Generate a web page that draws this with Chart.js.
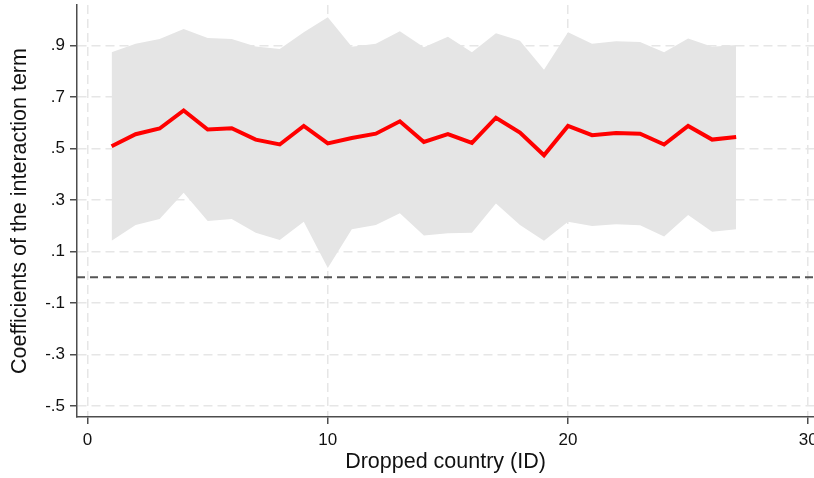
<!DOCTYPE html>
<html>
<head>
<meta charset="utf-8">
<script src="https://cdn.jsdelivr.net/npm/chart.js@4"></script>
<style>
  html, body { margin: 0; padding: 0; background: #fff; overflow: hidden; }
  #wrap { position: absolute; left: 0; top: 0; width: 814px; height: 478px; }
</style>
</head>
<body>
<div id="wrap"><canvas id="grafico" width="814" height="478"></canvas></div>
<script>
// dropped country id
const countryId = [1, 2, 3, 4, 5, 6, 7, 8, 9, 10, 11, 12, 13, 14, 15, 16, 17, 18, 19, 20, 21, 22, 23, 24, 25, 26, 27];
// point estimate of the interaction term
const coef = [0.509, 0.556, 0.578, 0.648, 0.574, 0.579, 0.535, 0.516, 0.588, 0.520,
              0.541, 0.558, 0.606, 0.526, 0.556, 0.522, 0.620, 0.562, 0.474, 0.588,
              0.552, 0.561, 0.558, 0.516, 0.588, 0.535, 0.545];
// confidence interval
const ciUpper = [0.874, 0.907, 0.926, 0.965, 0.930, 0.926, 0.897, 0.887, 0.952, 1.010,
                 0.896, 0.907, 0.956, 0.894, 0.935, 0.874, 0.948, 0.919, 0.806, 0.952,
                 0.907, 0.917, 0.914, 0.874, 0.928, 0.896, 0.903];
const ciLower = [0.142, 0.203, 0.226, 0.328, 0.219, 0.226, 0.173, 0.145, 0.216, 0.036,
                 0.187, 0.203, 0.249, 0.162, 0.171, 0.173, 0.287, 0.203, 0.142, 0.216,
                 0.199, 0.206, 0.202, 0.158, 0.242, 0.177, 0.187];
const refLine = 0;

const xTicks = [0, 10, 20, 30];
const yTicks = [-0.5, -0.3, -0.1, 0.1, 0.3, 0.5, 0.7, 0.9];
const X_MIN = -0.44, X_MAX = 30.24;
const Y_MIN = -0.543, Y_MAX = 1.058;

const pts = arr => countryId.map((id, i) => ({x: id, y: arr[i]}));

const axisColor = '#4d4d4d';
const gridColor = '#e6e6e6';
const fontFam = '"Liberation Sans", Arial, sans-serif';

const data = {
  datasets: [
    {
      label: 'upper',
      data: pts(ciUpper),
      borderWidth: 0,
      pointRadius: 0,
      backgroundColor: '#e5e5e5',
      fill: '+1',
      order: 3
    },
    {
      label: 'lower',
      data: pts(ciLower),
      borderWidth: 0,
      pointRadius: 0,
      fill: false,
      order: 3
    },
    {
      label: 'zero',
      data: [{x: X_MIN, y: refLine}, {x: X_MAX, y: refLine}],
      borderColor: '#555555',
      borderWidth: 2,
      borderDash: [8, 5],
      pointRadius: 0,
      fill: false,
      order: 2
    },
    {
      label: 'coef',
      data: pts(coef),
      borderColor: '#ff0000',
      borderWidth: 4,
      pointRadius: 0,
      fill: false,
      order: 1
    }
  ]
};

const config = {
  type: 'line',
  data: data,
  options: {
    responsive: false,
    animation: false,
    devicePixelRatio: 1,
    layout: { padding: { top: 5, left: 0, right: 0, bottom: 0 } },
    plugins: { legend: { display: false }, tooltip: { enabled: false } },
    scales: {
      x: {
        type: 'linear',
        min: X_MIN,
        max: X_MAX,
        afterBuildTicks: s => { s.ticks = xTicks.map(v => ({value: v})); },
        afterFit: s => { s.height = 61; s.paddingLeft = 0; s.paddingRight = 0; },
        ticks: {
          color: '#111',
          font: { family: fontFam, size: 17 },
          padding: 6,
          maxRotation: 0,
          callback: v => String(v)
        },
        grid: { color: gridColor, lineWidth: 1.5, tickColor: axisColor, tickLength: 7, tickWidth: 1.5 },
        border: { color: axisColor, width: 1.5, dash: [9, 5] },
        title: {
          display: true,
          text: 'Dropped country (ID)',
          color: '#111',
          font: { family: fontFam, size: 21.5 },
          padding: { top: 0, bottom: 3 }
        }
      },
      y: {
        min: Y_MIN,
        max: Y_MAX,
        afterBuildTicks: s => { s.ticks = yTicks.map(v => ({value: v})); },
        afterFit: s => { s.width = 77; s.paddingTop = 0; s.paddingBottom = 0; },
        ticks: {
          color: '#111',
          font: { family: fontFam, size: 17 },
          padding: 5,
          callback: v => String(Math.round(v * 10) / 10).replace('0.', '.')
        },
        grid: { color: gridColor, lineWidth: 1.5, tickColor: axisColor, tickLength: 7, tickWidth: 1.5 },
        border: { color: axisColor, width: 1.5, dash: [9, 5] },
        title: {
          display: true,
          text: 'Coefficients of the interaction term',
          color: '#111',
          font: { family: fontFam, size: 21.5 },
          padding: { top: 7, bottom: 0 }
        }
      }
    }
  }
};

var myChart = new Chart(document.getElementById('grafico'), config);
</script>
</body>
</html>
